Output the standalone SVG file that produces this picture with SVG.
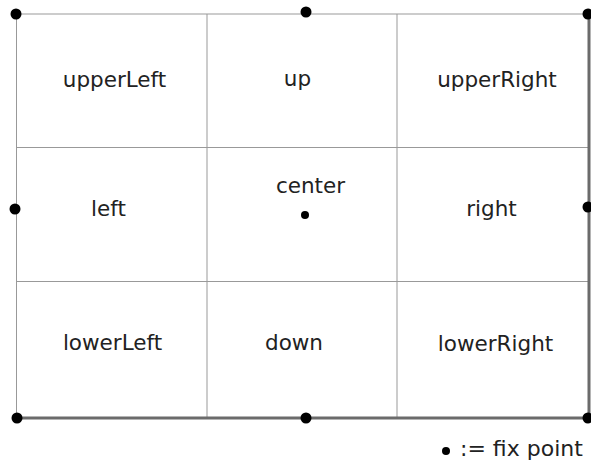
<svg xmlns="http://www.w3.org/2000/svg" width="591" height="464" viewBox="0 0 591 464">
<style>
.grid{stroke:#999;stroke-width:1;fill:none}
.thick{stroke:#6b6b6b;stroke-width:3;fill:none}
.lbl{font-family:"DejaVu Sans",Verdana,sans-serif;font-size:21.5px;fill:#222;text-anchor:middle}
.dot{fill:#000}
</style>
<rect width="591" height="464" fill="#fff"/>
<g id="connectors">
<line class="grid" x1="16.5" y1="14" x2="589" y2="14"/>
<line class="grid" x1="16.5" y1="14" x2="16.5" y2="418"/>
<line class="grid" x1="207" y1="14" x2="207" y2="418"/>
<line class="grid" x1="397" y1="14" x2="397" y2="418"/>
<line class="grid" x1="16.5" y1="147.5" x2="589" y2="147.5"/>
<line class="grid" x1="16.5" y1="281.5" x2="589" y2="281.5"/>
<line class="thick" x1="16" y1="418" x2="589" y2="418"/>
<line class="thick" x1="589" y1="14" x2="589" y2="418"/>
</g>
<g id="upperLeft"><text class="lbl" x="114.5" y="87">upperLeft</text></g>
<g id="up"><text class="lbl" x="297.5" y="86">up</text></g>
<g id="upperRight"><text class="lbl" x="497" y="87">upperRight</text></g>
<g id="left"><text class="lbl" x="108.5" y="215.5">left</text></g>
<g id="center"><text class="lbl" x="310.5" y="193">center</text><circle class="dot" cx="305" cy="215" r="4"/></g>
<g id="right"><text class="lbl" x="491.5" y="216">right</text></g>
<g id="lowerLeft"><text class="lbl" x="112.5" y="350">lowerLeft</text></g>
<g id="down"><text class="lbl" x="294" y="350">down</text></g>
<g id="lowerRight"><text class="lbl" x="495.5" y="351">lowerRight</text></g>
<g id="fixpoints">
<circle class="dot" cx="16" cy="14" r="5.5"/>
<circle class="dot" cx="306" cy="12" r="5.5"/>
<circle class="dot" cx="588" cy="14" r="5.5"/>
<circle class="dot" cx="15" cy="209" r="5.5"/>
<circle class="dot" cx="588" cy="207" r="5.5"/>
<circle class="dot" cx="17" cy="418" r="5.5"/>
<circle class="dot" cx="306" cy="418" r="5.5"/>
<circle class="dot" cx="588" cy="418" r="5.5"/>
</g>
<g id="legend"><circle class="dot" cx="446" cy="451" r="4"/><text x="460" y="456" style="font-family:'DejaVu Sans',Verdana,sans-serif;font-size:22px;fill:#222">:= fix point</text></g>
</svg>
